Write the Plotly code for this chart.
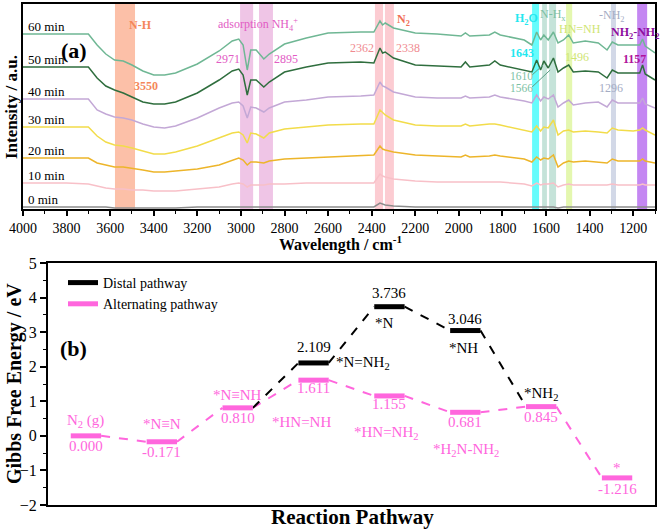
import plotly.graph_objects as go

# ---------------- Panel (a): in-situ spectra ----------------
wavenumber = [4000, 3900, 3800, 3700, 3660, 3620, 3580, 3540, 3500, 3450,
              3400, 3350, 3300, 3200, 3100, 3040, 3010, 2990, 2971, 2955,
              2930, 2895, 2870, 2800, 2700, 2600, 2450, 2390, 2362, 2350,
              2338, 2300, 2200, 2100, 1990, 1970, 1950, 1860, 1835, 1810,
              1700, 1665, 1643, 1625, 1610, 1590, 1566, 1545, 1520, 1496,
              1475, 1420, 1360, 1320, 1296, 1270, 1200, 1170, 1157, 1145,
              1100]

spec_60 = [176, 176, 176, 176, 165, 156, 150, 149, 145, 139,
           135, 135, 137, 146, 159, 169, 171, 165, 140, 160,
           160, 151, 156, 166, 172, 177, 178, 178, 189, 185,
           187, 182, 177, 176, 174, 177, 174, 175, 178, 175,
           170, 165, 178, 170, 175, 170, 178, 167, 170, 175,
           167, 169, 167, 160, 168, 165, 165, 165, 171, 164,
           157]
spec_50 = [143, 143, 143, 143, 132, 124, 120, 117, 113, 108,
           106, 106, 108, 117, 130, 139, 141, 135, 115, 130,
           130, 123, 128, 138, 143, 147, 148, 147, 162, 157,
           158, 152, 145, 144, 143, 148, 143, 145, 149, 145,
           140, 138, 150, 140, 149, 142, 152, 138, 142, 145,
           138, 139, 138, 132, 140, 137, 137, 137, 145, 136,
           130]
spec_40 = [111, 111, 111, 111, 100, 96, 93, 92, 90, 86,
           83, 82, 84, 92, 102, 107, 108, 104, 92, 103,
           102, 98, 102, 108, 110, 113, 114, 115, 128, 124,
           123, 118, 113, 112, 112, 114, 112, 113, 115, 113,
           109, 107, 115, 109, 113, 111, 115, 103, 107, 110,
           105, 107, 108, 103, 110, 107, 107, 107, 112, 106,
           102]
spec_30 = [83, 83, 83, 83, 74, 68, 65, 64, 62, 59,
           56, 56, 58, 64, 72, 77, 78, 75, 67, 77,
           76, 72, 77, 81, 83, 85, 86, 86, 100, 97,
           95, 90, 85, 84, 84, 86, 84, 86, 86, 85,
           80, 78, 84, 79, 83, 82, 90, 75, 79, 80,
           78, 79, 78, 77, 82, 80, 79, 80, 82, 80,
           75]
spec_20 = [52, 52, 52, 52, 47, 45, 43, 43, 42, 40,
           38, 38, 39, 41, 45, 50, 52, 50, 45, 48,
           48, 47, 49, 51, 52, 53, 54, 55, 64, 61,
           60, 58, 55, 54, 53, 55, 53, 54, 55, 54,
           51, 48, 53, 50, 52, 51, 55, 43, 47, 49,
           48, 49, 48, 47, 51, 49, 49, 49, 51, 49,
           47]
spec_10 = [27, 27, 27, 26, 24, 22, 21, 21, 20, 20,
           19, 19, 19, 21, 23, 26, 27, 26, 23, 25,
           25, 25, 26, 26, 27, 27, 27, 27, 36, 34,
           33, 31, 29, 28, 28, 28, 28, 28, 28, 28,
           26, 24, 27, 25, 26, 26, 27, 23, 25, 26,
           25, 25, 25, 25, 26, 25, 25, 25, 26, 25,
           25]
spec_0 = [3, 3, 3, 3, 3, 3, 2, 2, 2, 2,
          2, 2, 2, 3, 3, 3, 3, 3, 3, 3,
          3, 3, 3, 3, 3, 3, 3, 3, 7, 6,
          5, 4, 3, 3, 3, 3, 3, 3, 3, 3,
          3, 3, 3, 3, 3, 3, 3, 2, 3, 3,
          3, 3, 3, 3, 3, 3, 3, 3, 3, 3,
          3]

time_labels = ["60 min", "50 min", "40 min", "30 min", "20 min", "10 min", "0 min"]
spectra = [spec_60, spec_50, spec_40, spec_30, spec_20, spec_10, spec_0]

# assignment bands (wavenumber ranges)
band_start = [3578, 3004, 2917, 2385, 2339, 1664, 1618, 1586, 1508, 1302, 1182]
band_end = [3486, 2944, 2853, 2348, 2298, 1632, 1596, 1554, 1480, 1279, 1136]

# ---------------- Panel (b): free energy diagram ----------------
steps = [0, 1, 2, 3, 4, 5, 6, 7]
alt_energy = [0.000, -0.171, 0.810, 1.611, 1.155, 0.681, 0.845, -1.216]
alt_state = ["N<sub>2</sub> (g)", "*N≡N", "*N≡NH", "*HN=NH", "*HN=NH<sub>2</sub>",
             "*H<sub>2</sub>N-NH<sub>2</sub>", "*NH<sub>2</sub>", "*"]
dist_steps = [3, 4, 5]
dist_energy = [2.109, 3.736, 3.046]
dist_state = ["*N=NH<sub>2</sub>", "*N", "*NH"]

# ---------------- styles ----------------
FONT = "Liberation Serif, Times New Roman, serif"
PINK = "#FF66DD"
spec_colors = ["#6FB794", "#2F6E3E", "#C3A8D6", "#F2DC4A", "#EDB52A", "#F8C0C8", "#8C8C8C"]
band_colors = ["rgba(250,150,110,0.6)", "rgba(225,150,210,0.55)", "rgba(225,150,210,0.55)",
               "rgba(250,170,180,0.6)", "rgba(250,170,180,0.6)", "rgba(20,250,250,0.65)",
               "rgba(140,200,180,0.5)", "rgba(140,200,180,0.5)", "rgba(205,240,110,0.55)",
               "rgba(180,190,215,0.6)", "rgba(165,70,235,0.65)"]
HALF = 0.2

fig = go.Figure()

for lo, hi, c in zip(band_start, band_end, band_colors):
    fig.add_shape(type="rect", xref="x", yref="y domain", x0=lo, x1=hi, y0=0, y1=1,
                  fillcolor=c, line_width=0, layer="below")

for name, vals, col in zip(time_labels, spectra, spec_colors):
    fig.add_trace(go.Scatter(x=wavenumber, y=vals, mode="lines", xaxis="x", yaxis="y",
                             line=dict(color=col, width=1.5), showlegend=False, hoverinfo="skip"))
    fig.add_annotation(x=3985, y=vals[0] + 8, xref="x", yref="y", text=name, showarrow=False,
                       xanchor="left", yanchor="middle", font=dict(size=13, color="black"))

# band labels for panel (a): (text, wn, intensity, color, size)
top_labels = [
    ("<b>N-H</b>", 3463, 185, "#F4875A", 12),
    ("<b>3550</b>", 3436, 124, "#F4875A", 12),
    ("adsorption NH<sub>4</sub><sup>+</sup>", 2922, 186, "#E25CC4", 12),
    ("2971", 3060, 151, "#E25CC4", 12),
    ("2895", 2793, 151, "#E25CC4", 12),
    ("<b>N<sub>2</sub></b>", 2252, 190, "#F07058", 12),
    ("2362", 2444, 162, "#F08A90", 12),
    ("2338", 2233, 162, "#F08A90", 12),
    ("<b>H<sub>2</sub>O</b>", 1690, 191, "#22E8F0", 12),
    ("<b>1643</b>", 1710, 157, "#22E8F0", 12),
    ("N-H<sub>x</sub>", 1570, 195, "#7CBFA4", 12),
    ("1610", 1712, 134, "#7CBFA4", 11.5),
    ("1566", 1712, 122, "#7CBFA4", 11.5),
    ("HN=NH", 1444, 181, "#CFE574", 12),
    ("1496", 1458, 153, "#CFE574", 12),
    ("-NH<sub>2</sub>", 1297, 194, "#A4ACC4", 12),
    ("1296", 1301, 122, "#A4ACC4", 12),
    ("<b>NH<sub>2</sub>-NH<sub>2</sub></b>", 1191, 177, "#8E0E9E", 12),
    ("<b>1157</b>", 1196, 151, "#B0129A", 12),
]
for t, xx, yy, c, s in top_labels:
    fig.add_annotation(x=xx, y=yy, xref="x", yref="y", text=t, showarrow=False,
                       font=dict(size=s, color=c), xanchor="center", yanchor="middle")
fig.add_annotation(x=3765, y=160, xref="x", yref="y", text="<b>(a)</b>", showarrow=False,
                   font=dict(size=22, color="black"))
# leader lines
for x0, y0, x1, y1 in [(1664, 135, 1614, 145), (1664, 123, 1581, 140)]:
    fig.add_shape(type="line", xref="x", yref="y", x0=x0, y0=y0, x1=x1, y1=y1,
                  line=dict(color="#5E9E86", width=1))

# ---------------- panel (b) traces ----------------
def seg_x(idx, a, b):
    xs = []
    for i in idx:
        xs += [i + a, i + b, None]
    return xs

# alternating connectors
cx, cy = [], []
for i in range(len(steps) - 1):
    cx += [steps[i] + HALF, steps[i + 1] - HALF, None]
    cy += [alt_energy[i], alt_energy[i + 1], None]
fig.add_trace(go.Scatter(x=cx, y=cy, mode="lines", xaxis="x2", yaxis="y2",
                         line=dict(color=PINK, width=2, dash="dash"), showlegend=False, hoverinfo="skip"))
# distal connectors
dx_path = [steps[2]] + dist_steps + [steps[6]]
de_path = [alt_energy[2]] + dist_energy + [alt_energy[6]]
dx, dy = [], []
for i in range(len(dx_path) - 1):
    dx += [dx_path[i] + HALF, dx_path[i + 1] - HALF, None]
    dy += [de_path[i], de_path[i + 1], None]
fig.add_trace(go.Scatter(x=dx, y=dy, mode="lines", xaxis="x2", yaxis="y2",
                         line=dict(color="black", width=2, dash="dash"), showlegend=False, hoverinfo="skip"))

# level bars
ay = []
for e in alt_energy:
    ay += [e, e, None]
fig.add_trace(go.Scatter(x=seg_x(steps, -HALF, HALF), y=ay, mode="lines", xaxis="x2", yaxis="y2",
                         line=dict(color=PINK, width=5), name="Alternating pathway", legendrank=2,
                         hoverinfo="skip"))
by = []
for e in dist_energy:
    by += [e, e, None]
fig.add_trace(go.Scatter(x=seg_x(dist_steps, -HALF, HALF), y=by, mode="lines", xaxis="x2", yaxis="y2",
                         line=dict(color="black", width=5), name="Distal pathway", legendrank=1,
                         hoverinfo="skip"))

# labels panel (b)
num_shift = [-10, -10, -10, -8, -8, -10, -10, -11]
state_pos = [(0, 15), (0, 18), (0, 13), (-12, -42), (-3, -37), (1, -38), (0, 13), (0, 10)]
for i, (s, e) in enumerate(zip(steps, alt_energy)):
    fig.add_annotation(x=s, y=e, xref="x2", yref="y2", text=f"{e:.3f}", showarrow=False,
                       yshift=num_shift[i], yanchor="middle", font=dict(size=15, color=PINK))
    xs, ys = state_pos[i]
    col = "black" if i == 6 else PINK
    fig.add_annotation(x=s, y=e, xref="x2", yref="y2", text=alt_state[i], showarrow=False,
                       xshift=xs, yshift=ys, yanchor="middle", font=dict(size=15, color=col))

dnum_shift = [16, 14, 12]
dstate_pos = [(None, 0), (-5, -16), (-2, -17)]
for j, (s, e) in enumerate(zip(dist_steps, dist_energy)):
    fig.add_annotation(x=s, y=e, xref="x2", yref="y2", text=f"{e:.3f}", showarrow=False,
                       yshift=dnum_shift[j], yanchor="middle", font=dict(size=15, color="black"))
    xs, ys = dstate_pos[j]
    if xs is None:
        fig.add_annotation(x=s + HALF, y=e, xref="x2", yref="y2", text=dist_state[j], showarrow=False,
                           xanchor="left", xshift=5, yanchor="middle", font=dict(size=15, color="black"))
    else:
        fig.add_annotation(x=s, y=e, xref="x2", yref="y2", text=dist_state[j], showarrow=False,
                           xshift=xs, yshift=ys, yanchor="middle", font=dict(size=15, color="black"))

fig.add_annotation(x=-0.16, y=2.54, xref="x2", yref="y2", text="<b>(b)</b>", showarrow=False,
                   font=dict(size=22, color="black"))

# axis titles
W, H = 661, 532
titles = [
    ("<b>Wavelength / cm<sup>-1</sup></b>", 340, 243, 16, 0),
    ("<b>Intensity / a.u.</b>", 12, 107, 17, -90),
    ("<b>Gibbs Free Energy / eV</b>", 14, 384, 20, -90),
    ("<b>Reaction Pathway</b>", 352, 517, 21, 0),
]
for t, px, py, s, ang in titles:
    fig.add_annotation(x=px / W, y=1 - py / H, xref="paper", yref="paper", text=t, showarrow=False,
                       textangle=ang, xanchor="center", yanchor="middle", font=dict(size=s, color="black"))

frame = dict(showline=True, mirror=True, linecolor="black", linewidth=2, showgrid=False, zeroline=False)
fig.update_layout(
    width=W, height=H, margin=dict(l=0, r=0, t=0, b=0),
    paper_bgcolor="white", plot_bgcolor="white",
    font=dict(family=FONT, color="black"),
    xaxis=dict(domain=[23 / W, 655 / W], range=[4000, 1100], anchor="y", tick0=4000, dtick=200,
               ticks="outside", ticklen=5, tickwidth=1.5, tickcolor="black",
               minor=dict(dtick=100, ticks="outside", ticklen=3, tickcolor="black", tickwidth=1.2),
               tickfont=dict(size=14), automargin=False, **frame),
    yaxis=dict(domain=[1 - 209 / H, 1 - 4 / H], range=[1, 206], anchor="x", showticklabels=False,
               ticks="", automargin=False, **frame),
    xaxis2=dict(domain=[48 / W, 655 / W], range=[-0.5, 7.5], anchor="y2", showticklabels=False,
                ticks="", automargin=False, **frame),
    yaxis2=dict(domain=[1 - 505 / H, 1 - 263 / H], range=[-2, 5], anchor="x2", dtick=1,
                ticks="outside", ticklen=6, tickwidth=1.5, tickcolor="black",
                minor=dict(dtick=0.5, ticks="outside", ticklen=3, tickcolor="black", tickwidth=1.2),
                tickfont=dict(size=16), automargin=False, **frame),
    legend=dict(x=63 / W, y=1 - 267 / H, xanchor="left", yanchor="top", bgcolor="rgba(0,0,0,0)",
                font=dict(size=14), itemwidth=30, tracegroupgap=0),
    showlegend=True,
)

fig.write_html("out.html", config={"displayModeBar": False},
               post_script="document.body.style.margin='0px';document.body.style.overflow='hidden';")
